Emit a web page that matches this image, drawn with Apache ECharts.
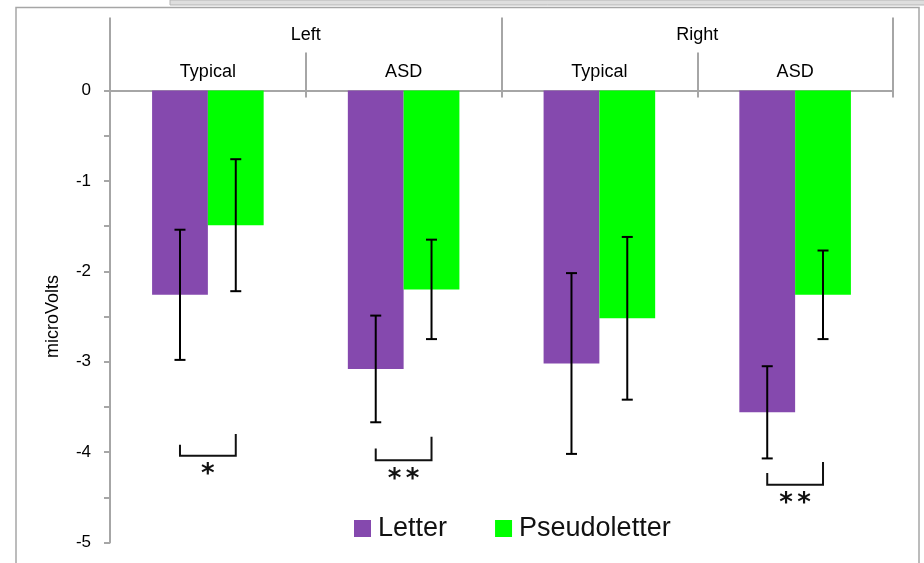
<!DOCTYPE html>
<html>
<head>
<meta charset="utf-8">
<script src="https://cdn.jsdelivr.net/npm/echarts@6/dist/echarts.min.js"></script>
<style>
html,body{margin:0;padding:0;background:#fff;}
#chart{width:924px;height:563px;}
</style>
</head>
<body>
<div id="chart"></div>
<script>
// ---- data ----
const groups = ['Left', 'Right'];
const subgroups = ['Typical', 'ASD', 'Typical', 'ASD'];
const seriesNames = ['Letter', 'Pseudoletter'];
const letterMean = [-2.26, -3.08, -3.02, -3.56];
const letterErr = [0.72, 0.59, 1.00, 0.51];
const pseudoMean = [-1.49, -2.20, -2.52, -2.26];
const pseudoErr = [0.73, 0.55, 0.90, 0.49];
const sigCategory = [0, 1, 3];
const sigLabel = ['*', '**', '**'];
const sigLeftTop = [-3.92, -3.96, -4.23];
const sigRightTop = [-3.80, -3.83, -4.11];
const sigBase = [-4.04, -4.09, -4.36];
const yTicks = [0, -1, -2, -3, -4, -5];

const FONT = 'Liberation Sans';
const GRAY = '#a6a6a6';
const PURPLE = '#8549ae';
const GREEN = '#00ff00';
const HALF = 0.1425; // bar center offset as fraction of category band

const chart = echarts.init(document.getElementById('chart'));

function errorRender(offsetSign) {
  return function (params, api) {
    const c = api.value(0), m = api.value(1), e = api.value(2);
    const band = api.size([1, 0])[0];
    const top = api.coord([c, m + e]);
    const bot = api.coord([c, m - e]);
    const x = top[0] + offsetSign * band * HALF;
    const w = 5.5;
    const style = { stroke: '#000', lineWidth: 2 };
    return {
      type: 'group',
      children: [
        { type: 'line', shape: { x1: x, y1: top[1], x2: x, y2: bot[1] }, style },
        { type: 'line', shape: { x1: x - w, y1: top[1], x2: x + w, y2: top[1] }, style },
        { type: 'line', shape: { x1: x - w, y1: bot[1], x2: x + w, y2: bot[1] }, style }
      ]
    };
  };
}

function sigRender(params, api) {
  const i = params.dataIndex;
  const c = api.value(0);
  const band = api.size([1, 0])[0];
  const base = api.coord([c, sigBase[i]]);
  const xl = base[0] - band * HALF;
  const xr = base[0] + band * HALF;
  const lt = api.coord([c, sigLeftTop[i]])[1];
  const rt = api.coord([c, sigRightTop[i]])[1];
  const style = { stroke: '#111', lineWidth: 2, fill: null };
  const children = [
    { type: 'polyline', shape: { points: [[xl, lt], [xl, base[1]], [xr, base[1]], [xr, rt]] }, style }
  ];
  const chars = sigLabel[i].split('');
  const step = 18;
  const cx = (xl + xr) / 2;
  chars.forEach((ch, k) => {
    children.push({
      type: 'text', x: cx + (k - (chars.length - 1) / 2) * step, y: base[1] + 20,
      style: { text: ch, font: 'bold 26px "DejaVu Sans"', fill: '#111', align: 'center', verticalAlign: 'middle' }
    });
  });
  return { type: 'group', children };
}

const option = {
  animation: false,
  textStyle: { fontFamily: FONT },
  grid: { left: 110, right: 31, top: 90.5, bottom: 20.5, containLabel: false },
  graphic: [
    { type: 'rect', shape: { x: 170, y: 0, width: 760, height: 5 }, style: { fill: '#dedede', stroke: '#b5b5b5', lineWidth: 1 }, z: 100 },
    { type: 'rect', shape: { x: 16, y: 7.5, width: 903, height: 600 }, style: { fill: null, stroke: GRAY, lineWidth: 1.5 }, z: 99 }
  ],
  legend: {
    data: seriesNames,
    left: 354, top: 515,
    padding: 0,
    itemWidth: 17, itemHeight: 17, itemGap: 48,
    icon: 'rect',
    selectedMode: false,
    textStyle: { fontSize: 27, color: '#111', fontFamily: FONT, padding: [0, 0, 0, 2] }
  },
  xAxis: [
    {
      type: 'category', data: subgroups, position: 'top',
      axisLine: { show: true, lineStyle: { color: GRAY, width: 2 } },
      axisTick: { show: true, interval: 0, length: 38, lineStyle: { color: GRAY, width: 2 } },
      axisLabel: { interval: 0, margin: 9, fontSize: 18, color: '#000', fontFamily: FONT },
      splitLine: { show: false }
    },
    {
      type: 'category', data: groups, position: 'top',
      axisLine: { show: false },
      axisTick: { show: true, interval: 0, length: 73, lineStyle: { color: GRAY, width: 2 } },
      axisLabel: { interval: 0, margin: 46, fontSize: 18, color: '#000', fontFamily: FONT },
      splitLine: { show: false }
    },
    {
      type: 'category', data: subgroups, position: 'top',
      axisLine: { show: false },
      axisTick: { show: true, inside: true, interval: 0, length: 7, lineStyle: { color: GRAY, width: 2 } },
      axisLabel: { show: false },
      splitLine: { show: false }
    }
  ],
  yAxis: {
    type: 'value', min: yTicks[yTicks.length - 1], max: yTicks[0], interval: 1,
    name: 'microVolts', nameLocation: 'middle', nameGap: 48, nameRotate: 90,
    nameTextStyle: { fontSize: 18, color: '#000', fontFamily: FONT },
    axisLine: { show: true, lineStyle: { color: GRAY, width: 2 } },
    axisTick: { show: true, length: 6, lineStyle: { color: GRAY, width: 2 } },
    minorTick: { show: true, splitNumber: 2, length: 6, lineStyle: { color: GRAY, width: 2 } },
    axisLabel: { margin: 19, fontSize: 17, color: '#000', fontFamily: FONT },
    splitLine: { show: false }
  },
  series: [
    {
      name: seriesNames[0], type: 'bar', xAxisIndex: 0, data: letterMean,
      barGap: 0, barCategoryGap: '43%',
      itemStyle: { color: PURPLE }, emphasis: { disabled: true }
    },
    {
      name: seriesNames[1], type: 'bar', xAxisIndex: 0, data: pseudoMean,
      barGap: 0, barCategoryGap: '43%',
      itemStyle: { color: GREEN }, emphasis: { disabled: true }
    },
    {
      type: 'custom', xAxisIndex: 0, renderItem: errorRender(-1), z: 5,
      encode: { x: 0, y: 1 },
      data: letterMean.map((m, i) => [i, m, letterErr[i]])
    },
    {
      type: 'custom', xAxisIndex: 0, renderItem: errorRender(1), z: 5,
      encode: { x: 0, y: 1 },
      data: pseudoMean.map((m, i) => [i, m, pseudoErr[i]])
    },
    {
      type: 'custom', xAxisIndex: 0, renderItem: sigRender, z: 5,
      encode: { x: 0, y: 1 },
      data: sigCategory.map((c, i) => [c, sigBase[i]])
    }
  ]
};
chart.setOption(option);
</script>
</body>
</html>
